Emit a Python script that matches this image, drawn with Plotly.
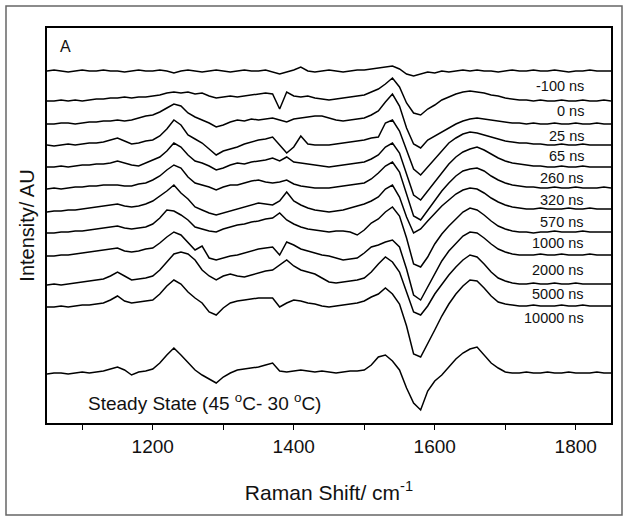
import plotly.graph_objects as go

# Raman shift grid (cm-1), 10 cm-1 steps from 1050 to 1850
wavenumber = list(range(1050, 1851, 10))

labels = ["-100 ns", "0 ns", "25 ns", "65 ns", "260 ns", "320 ns", "570 ns",
          "1000 ns", "2000 ns", "5000 ns", "10000 ns", "Steady State"]

# vertical stacking offsets (AU)
offsets = [352, 322, 299, 278, 256, 235, 214, 191, 168, 139, 117, 50]

s_m100 = [0, 1, 0, -1, 0, 1, 0, 0, 1, 0,
          0, -1, 0, 1, 0, 0, 1, 0, -2, 0,
          1, 0, -1, 0, 1, 0, -1, 0, 1, 0,
          0, 1, -1, -3, -1, 1, 4, 0, -1, 0,
          1, 0, -1, 0, 1, 1, 2, 3, 4, 5,
          2, -3, -5, -3, -1, -2, 0, -1, 0, 1,
          0, 1, 0, 0, -1, 0, 1, 0, 0, 1,
          0, 0, 1, 0, -1, 0, 0, 1, 0, 0,
          0]
s_0 = [0, 0, 1, 0, 1, 0, 1, 2, 2, 3,
       3, 4, 3, 4, 4, 5, 6, 8, 9, 8,
       9, 7, 8, 5, 3, 4, 5, 4, 5, 6,
       7, 8, 7, -8, 9, 5, 4, 5, 3, 2,
       1, 2, 3, 4, 5, 6, 9, 12, 17, 23,
       14, -2, -12, -14, -8, -4, 1, 4, 7, 9,
       10, 9, 8, 6, 5, 3, 2, 1, 1, 0,
       1, 0, 0, 1, 0, 0, 1, 0, 0, 1,
       0]
s_25 = [0, 0, 1, 1, 0, 1, 2, 2, 3, 3,
        4, 3, 4, 6, 8, 9, 12, 16, 20, 18,
        11, 7, 4, 1, -3, -1, 2, 4, 3, 5,
        4, 5, 6, 4, 2, 5, 6, 7, 8, 8,
        6, 4, 3, 4, 5, 6, 9, 13, 22, 30,
        18, -4, -20, -24, -16, -12, -8, -4, 0, 3,
        5, 6, 5, 4, 3, 2, 1, 1, 0, 1,
        0, 0, 1, 0, 0, 1, 0, 0, 1, 0,
        0]
s_65 = [0, -1, 0, 1, 0, 1, 2, 2, 3, 5,
        7, 4, 1, 2, 4, 5, 9, 16, 25, 20,
        10, 6, 2, -4, -10, -6, -4, -2, 1, 3,
        5, 6, 8, 0, -8, -2, 9, 1, 0, 0,
        0, 1, 2, 3, 4, 5, 7, 8, 22, 25,
        14, -6, -24, -30, -22, -14, -6, 2, 7, 11,
        13, 12, 10, 8, 6, 4, 3, 2, 2, 1,
        1, 0, 0, 1, 0, 0, 1, 0, 0, 0,
        0]
s_260 = [0, 0, 1, 0, 1, 2, 2, 3, 3, 4,
         6, 4, 2, 1, 4, 7, 10, 16, 24, 20,
         12, 6, 4, 1, -3, -1, 2, 4, 3, 5,
         6, 7, 9, 6, 10, 5, 4, 3, 2, 1,
         0, 1, 2, 3, 4, 5, 8, 12, 20, 24,
         14, -8, -28, -33, -24, -14, -5, 3, 10, 15,
         18, 20, 17, 13, 9, 6, 4, 3, 2, 1,
         1, 0, 0, 1, 0, 0, 1, 0, 0, 0,
         0]
s_320 = [-1, 0, -1, 0, 1, 1, 2, 2, 3, 3,
         3, 2, 2, 4, 5, 8, 12, 18, 23, 20,
         11, 5, 3, 1, -2, 1, 3, 3, 5, 7,
         8, 6, 5, 6, 8, 4, 2, 1, 0, 0,
         0, 1, 2, 3, 4, 5, 9, 15, 22, 26,
         16, -6, -28, -32, -22, -12, -3, 5, 12, 17,
         19, 20, 17, 12, 8, 5, 3, 2, 1, 1,
         0, 0, 1, 0, 0, 1, 0, 0, 0, 1,
         0]
s_570 = [-3, -2, -2, -1, -1, 0, 1, 2, 3, 4,
         5, 3, 2, 3, 5, 8, 13, 18, 24, 16,
         10, 2, -1, -4, -6, -4, -2, 0, 2, 4,
         6, 5, 4, 8, 17, 8, 4, 1, -1, -2,
         -3, -2, -1, 1, 3, 5, 8, 12, 20, 24,
         12, -8, -24, -20, -12, -4, 3, 9, 15, 19,
         21, 20, 16, 11, 7, 4, 2, 1, 0, 0,
         1, 0, 0, 0, 1, 0, 0, 1, 0, 0,
         0]
s_1000 = [-1, -1, 0, 0, 1, 1, 2, 3, 4, 5,
          6, 4, 3, 4, 5, 8, 14, 22, 21, 17,
          12, 5, 3, 1, 0, 3, 5, 7, 8, 10,
          11, 13, 14, 19, 12, 8, 5, 3, 2, 1,
          0, 1, 1, 0, -3, 2, 9, 13, 20, 25,
          16, -6, -32, -35, -25, -12, -2, 6, 13, 20,
          24, 22, 17, 11, 6, 3, 1, 0, 0, -1,
          0, 0, 1, 0, 0, 0, 1, 0, 0, 0,
          0]
s_2000 = [-1, -1, 0, 0, 1, 2, 3, 4, 5, 6,
          7, 4, 3, 4, 6, 7, 12, 18, 23, 20,
          12, 5, 9, -3, -5, -3, -1, 0, 2, 4,
          6, 7, 8, 0, 13, 10, 6, 4, 2, 0,
          -1, -3, -5, -4, -3, 2, 8, 10, 13, 15,
          8, -14, -40, -45, -32, -18, -6, 4, 12, 19,
          23, 22, 17, 11, 6, 3, 1, 0, 0, 0,
          1, 0, 0, 1, 0, 0, 0, 1, 0, 0,
          0]
s_5000 = [-1, 0, -1, 0, 1, 2, 3, 4, 5, 8,
          12, 8, 4, 5, 6, 8, 14, 22, 30, 32,
          30, 24, 14, 8, 4, 8, 10, 8, 7, 9,
          11, 13, 14, 19, 24, 18, 14, 12, 10, 6,
          2, 1, 2, 3, 4, 6, 12, 20, 27, 22,
          12, -8, -28, -31, -22, -10, 0, 9, 17, 24,
          29, 27, 20, 12, 6, 3, 1, 0, 0, 1,
          0, 0, 1, 0, 0, 1, 0, 0, 0, 0,
          0]
s_10000 = [-1, -1, 0, -1, 0, 1, 1, 2, 3, 6,
           10, 5, 3, 4, 5, 6, 12, 20, 26, 22,
           14, 8, 3, -6, -9, -2, 3, 5, 6, 7,
           8, 8, 8, -1, 3, 6, 5, 3, 2, 0,
           -1, 0, 1, 2, 3, 5, 9, 12, 18, 12,
           2, -20, -48, -51, -38, -24, -10, 2, 12, 20,
           26, 25, 18, 10, 4, 2, 1, 0, 0, 1,
           0, 0, 0, 1, 0, 0, 1, 0, 0, 0,
           0]
s_ss = [-1, 0, 0, -1, 0, 1, 0, 1, 2, 4,
        6, 3, -2, 1, 2, 4, 10, 18, 25, 18,
        10, 3, -2, -6, -10, -4, 0, 3, 4, 5,
        6, 8, 10, 2, 1, 2, 3, 2, 1, 2,
        1, 0, 1, 2, 2, 3, 8, 16, 18, 12,
        3, -15, -30, -37, -18, -8, -2, 6, 14, 20,
        24, 26, 18, 10, 5, 1, 0, 0, 1, 0,
        0, 1, 0, 0, 1, 0, 0, 0, 1, 0,
        0]

spectra = [s_m100, s_0, s_25, s_65, s_260, s_320, s_570,
           s_1000, s_2000, s_5000, s_10000, s_ss]

# label vertical positions (AU) for the time delays
label_y = [337, 312, 287, 267, 245, 223, 201, 180, 153, 129, 105]

fig = go.Figure()
for name, off, s in zip(labels, offsets, spectra):
    fig.add_trace(go.Scatter(
        x=wavenumber, y=[off + v for v in s], mode="lines", name=name,
        line=dict(color="black", width=1.5), showlegend=False))

FONT = "Liberation Sans, Arial, sans-serif"
for name, ly in zip(labels[:-1], label_y):
    fig.add_annotation(x=1815, y=ly, text=name, showarrow=False,
                       xanchor="right", yanchor="middle",
                       font=dict(family=FONT, size=14.5, color="#111"))

fig.add_annotation(x=1066, y=377, text="A", showarrow=False,
                   xanchor="left", yanchor="middle",
                   font=dict(family=FONT, size=16, color="#111"))
fig.add_annotation(x=1106, y=21,
                   text="Steady State (45 <sup>o</sup>C- 30 <sup>o</sup>C)",
                   showarrow=False, xanchor="left", yanchor="middle",
                   font=dict(family=FONT, size=19, color="#111"))

# outer frame
fig.add_shape(type="rect", xref="paper", yref="paper",
              x0=-0.0727, x1=1.0195, y0=-0.2329, y1=1.0557,
              line=dict(color="#666", width=1.5), layer="below")

fig.update_layout(
    width=629, height=520,
    margin=dict(l=47, r=18, t=28, b=97),
    paper_bgcolor="white", plot_bgcolor="white",
    font=dict(family=FONT, color="#111"),
    xaxis=dict(range=[1050, 1850], tick0=1000, dtick=200,
               ticks="outside", ticklen=5, tickwidth=1.2, tickcolor="black",
               minor=dict(dtick=100, tick0=1000, ticks="outside", ticklen=5,
                          tickwidth=1.2, tickcolor="black"),
               showline=True, linecolor="black", linewidth=1.5, mirror=True,
               showgrid=False, zeroline=False,
               tickfont=dict(family=FONT, size=19, color="#111"),
               title=dict(text="Raman Shift/ cm<sup>-1</sup>",
                          font=dict(family=FONT, size=21, color="#111"),
                          standoff=30)),
    yaxis=dict(range=[0, 395], showticklabels=False, ticks="",
               showline=True, linecolor="black", linewidth=1.5, mirror=True,
               showgrid=False, zeroline=False,
               title=dict(text="Intensity/ AU",
                          font=dict(family=FONT, size=20, color="#111"),
                          standoff=5)),
)

fig.write_html("out.html", config={"displayModeBar": False},
               post_script="document.body.style.margin='0';")
